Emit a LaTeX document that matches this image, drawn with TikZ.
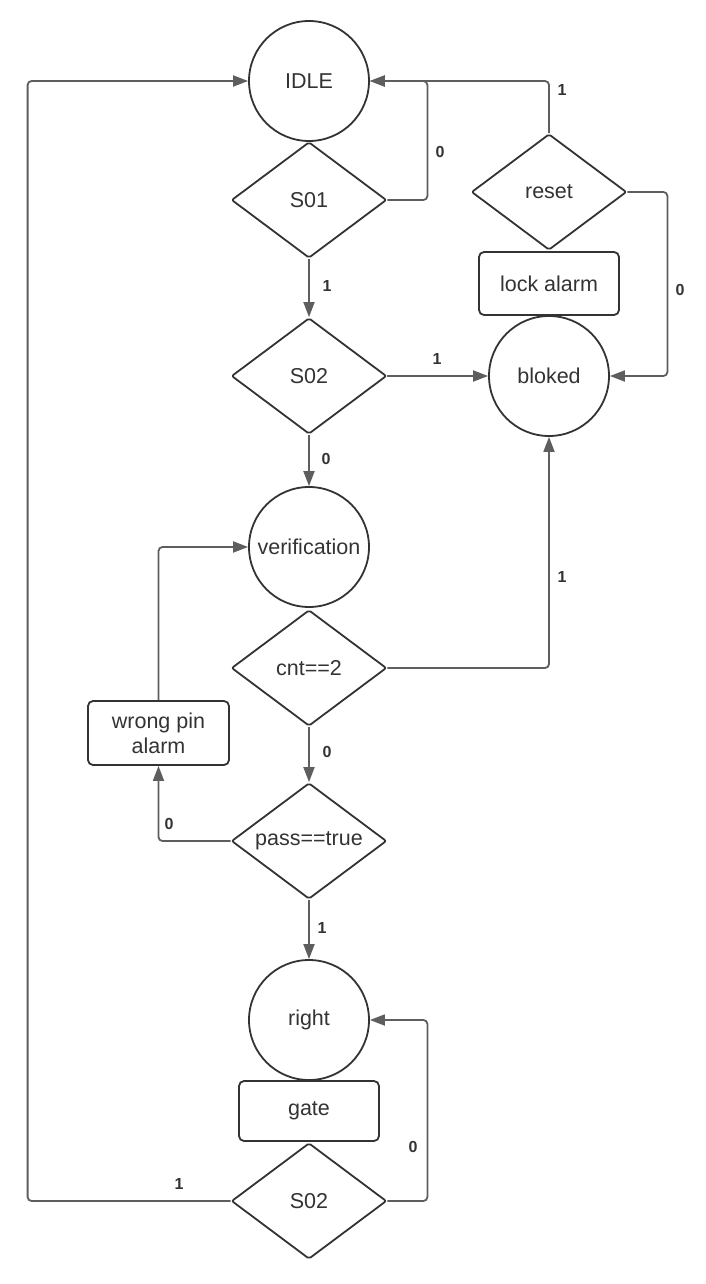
\documentclass[tikz,border=0pt]{standalone}
\usepackage{fontspec}
\setmainfont{Liberation Sans}
\usetikzlibrary{shapes.geometric,arrows.meta}
\definecolor{outline}{HTML}{333333}
\definecolor{wire}{HTML}{5E5E5E}
\begin{document}
\begin{tikzpicture}[x=1pt,y=-1pt,
  every node/.style={text=outline},
  state/.style={circle,draw=outline,line width=1.8pt,minimum size=120pt,inner sep=0pt,
    font=\fontsize{21.5}{25}\selectfont},
  test/.style={diamond,draw=outline,line width=1.8pt,minimum width=155pt,minimum height=116pt,
    inner sep=0pt,aspect=1.3,rounded corners=2pt,font=\fontsize{21.5}{25}\selectfont},
  action/.style={rectangle,draw=outline,line width=1.8pt,rounded corners=5pt,minimum width=140pt,
    minimum height=62pt,inner sep=0pt,align=center,font=\fontsize{21.5}{25}\selectfont},
  flow/.style={draw=wire,line width=1.8pt,rounded corners=4pt,
    -{Triangle[length=15pt,width=11pt]}},
  tag/.style={font=\fontsize{16}{19}\selectfont\bfseries,inner sep=0pt}]
\useasboundingbox (0,0) rectangle (705,1284);

% states, tests and actions
\node[state] (idle) at (309,81) {IDLE};
\node[test] (s01) at (309,200) {S01};
\node[test] (s02) at (309,376) {S02};
\node[state] (verif) at (309,547) {verification};
\node[test] (cnt) at (309,668) {cnt==2};
\node[test] (pass) at (309,841) {pass==true};
\node[state] (right) at (309,1020) {right};
\node[action,minimum height=60pt] (gate) at (309,1111) {gate};
\node[test] (s02b) at (309,1201) {S02};
\node[test] (reset) at (549,192) {reset};
\node[action,minimum height=63pt] (lock) at (549,283.5) {lock alarm};
\node[state] (blok) at (549,376) {bloked};
\node[action,minimum width=141pt,minimum height=64pt] (wrong) at (158.5,733) {wrong pin\\alarm};

% transitions
\draw[flow] (s01.east) -- ++(40,0) |- (idle.east);
\draw[flow] (reset.north) |- (idle.east);
\draw[flow] (reset.east) -- ++(40,0) |- (blok.east);
\draw[flow] (s01.south) -- (s02.north);
\draw[flow] (s02.east) -- (blok.west);
\draw[flow] (s02.south) -- (verif.north);
\draw[flow] (cnt.east) -| (blok.south);
\draw[flow] (cnt.south) -- (pass.north);
\draw[flow] (wrong.north) |- (verif.west);
\draw[flow] (pass.west) -| (wrong.south);
\draw[flow] (pass.south) -- (right.north);
\draw[flow] (s02b.west) -- ++(-203,0) |- (idle.west);
\draw[flow] (s02b.east) -- ++(40,0) |- (right.east);

% transition labels
\node[tag] (l1) at (440,152) {0};
\node[tag] (l2) at (562,90) {1};
\node[tag] (l3) at (680,290) {0};
\node[tag] (l4) at (327,286) {1};
\node[tag] (l5) at (437,359) {1};
\node[tag] (l6) at (326,459) {0};
\node[tag] (l7) at (562,577) {1};
\node[tag] (l8) at (327,752) {0};
\node[tag] (l9) at (169,824) {0};
\node[tag] (l10) at (322,928) {1};
\node[tag] (l11) at (179,1184) {1};
\node[tag] (l12) at (413,1147) {0};
\end{tikzpicture}
\end{document}
